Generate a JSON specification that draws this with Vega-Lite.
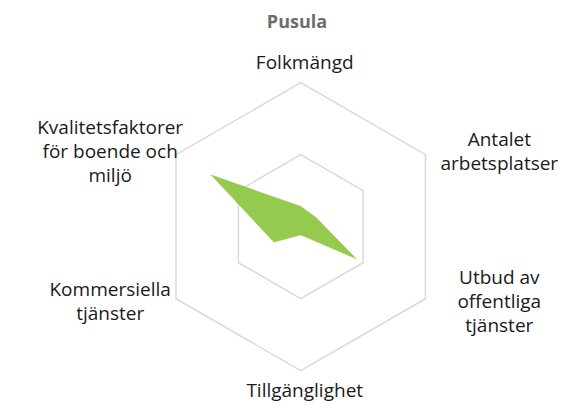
{
  "$schema": "https://vega.github.io/schema/vega-lite/v6.json",
  "width": 582,
  "height": 405,
  "autosize": "none",
  "padding": 0,
  "background": "white",
  "title": {"text": "Pusula", "fontSize": 18, "fontWeight": "bold", "color": "#6d6d6d", "font": "Open Sans", "offset": -32, "anchor": "middle", "dx": 6},
  "config": {"view": {"stroke": null}},
  "datasets": {
    "scores": [
      {"axis": "Folkmängd", "label": "Folkmängd", "idx": 0, "value": 0.142},
      {"axis": "Antalet arbetsplatser", "label": "Antalet\narbetsplatser", "idx": 1, "value": 0.125},
      {"axis": "Utbud av offentliga tjänster", "label": "Utbud av\noffentliga\ntjänster", "idx": 2, "value": 0.447},
      {"axis": "Tillgänglighet", "label": "Tillgänglighet", "idx": 3, "value": 0.058},
      {"axis": "Kommersiella tjänster", "label": "Kommersiella\ntjänster", "idx": 4, "value": 0.215},
      {"axis": "Kvalitetsfaktorer för boende och miljö", "label": "Kvalitetsfaktorer\nför boende och\nmiljö", "idx": 5, "value": 0.72}
    ],
    "grid": [
      {"level": 0.5, "idx": 0}, {"level": 0.5, "idx": 1}, {"level": 0.5, "idx": 2},
      {"level": 0.5, "idx": 3}, {"level": 0.5, "idx": 4}, {"level": 0.5, "idx": 5},
      {"level": 1, "idx": 0}, {"level": 1, "idx": 1}, {"level": 1, "idx": 2},
      {"level": 1, "idx": 3}, {"level": 1, "idx": 4}, {"level": 1, "idx": 5}
    ]
  },
  "resolve": {"scale": {"x": "shared", "y": "shared"}},
  "layer": [
    {
      "data": {"name": "grid"},
      "transform": [
        {"calculate": "datum.idx * PI / 3", "as": "angle"},
        {"calculate": "datum.level * sin(datum.angle)", "as": "x"},
        {"calculate": "datum.level * cos(datum.angle)", "as": "y"}
      ],
      "mark": {"type": "line", "interpolate": "linear-closed", "stroke": "#d9d9d9", "strokeWidth": 1.5},
      "encoding": {
        "x": {"field": "x", "type": "quantitative", "scale": {"domain": [-2.088, 1.953], "nice": false, "zero": false}, "axis": null},
        "y": {"field": "y", "type": "quantitative", "scale": {"domain": [-1.238, 1.574], "nice": false, "zero": false}, "axis": null},
        "detail": {"field": "level"},
        "order": {"field": "idx"}
      }
    },
    {
      "data": {"name": "scores"},
      "transform": [
        {"calculate": "datum.idx * PI / 3", "as": "angle"},
        {"calculate": "datum.value * sin(datum.angle)", "as": "x"},
        {"calculate": "datum.value * cos(datum.angle)", "as": "y"}
      ],
      "mark": {"type": "line", "interpolate": "linear-closed", "fill": "#8dc63f", "fillOpacity": 0.92, "stroke": "#8dc63f", "strokeOpacity": 0.3, "strokeWidth": 1},
      "encoding": {
        "x": {"field": "x", "type": "quantitative"},
        "y": {"field": "y", "type": "quantitative"},
        "order": {"field": "idx"}
      }
    },
    {
      "data": {"name": "scores"},
      "transform": [
        {"calculate": "datum.idx * PI / 3", "as": "angle"},
        {"calculate": "length(split(datum.label, '\\n'))", "as": "nlines"},
        {"calculate": "1.56 * sin(datum.angle)", "as": "lx"},
        {"calculate": "(datum.idx % 3 == 0 ? 1.14 : 1.04) * cos(datum.angle) + (datum.nlines - 1) * 12 / 144", "as": "ly"}
      ],
      "mark": {"type": "text", "lineBreak": "\n", "fontSize": 19, "font": "Open Sans", "color": "#1a1a1a", "align": "center", "baseline": "middle", "lineHeight": 24, "dx": 4},
      "encoding": {
        "x": {"field": "lx", "type": "quantitative"},
        "y": {"field": "ly", "type": "quantitative"},
        "text": {"field": "label"}
      }
    }
  ]
}
